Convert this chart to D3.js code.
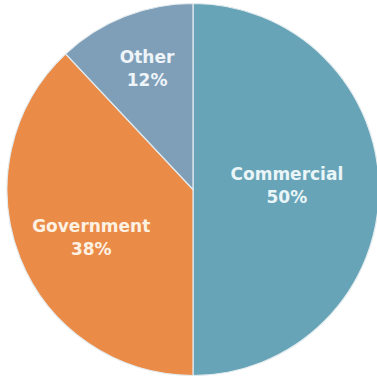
<!DOCTYPE html>
<html lang="en">
<head>
    <meta charset="UTF-8">
    <title>Pie</title>
    <style>
        body, html {
            margin: 0;
            padding: 0;
            background-color: #ffffff;
        }
        svg { display: block; }
    </style>
</head>
<body>
    <svg id="svg" width="377" height="378"></svg>
    <script src="https://d3js.org/d3.v7.min.js"></script>
    <script>
        const categories = ['Commercial', 'Government', 'Other']
        const shares = [50, 38, 12]
        const pctLabels = ['50%', '38%', '12%']

        const colors = ['#67a4b7', '#ea8b48', '#7f9fb9']
        const textColors = ['#eaf5f8', '#fdf1e2', '#eef4f8']

        const data = categories.map((c, i) => ({ name: c, value: shares[i], pct: pctLabels[i] }))

        const cx = 193, cy = 189.5, radius = 186

        const svg = d3.select('#svg')
        const g = svg.append('g').attr('transform', `translate(${cx}, ${cy})`)

        const pie = d3.pie().sort(null).value(d => d.value)
        const arc = d3.arc().innerRadius(0).outerRadius(radius)

        const color = d3.scaleOrdinal().domain(categories).range(colors)
        const textColor = d3.scaleOrdinal().domain(categories).range(textColors)

        const arcs = pie(data)

        g.selectAll('path')
            .data(arcs)
            .enter()
            .append('path')
            .attr('d', arc)
            .attr('fill', d => color(d.data.name))
            .attr('stroke', '#e4ecef')
            .attr('stroke-width', 1.2)

        // label placement: distance from centre (share of radius) plus a small nudge
        const labelR = { Commercial: 0.51, Government: 0.6, Other: 0.7 }
        const nudge = { Commercial: [-1, -6.5], Government: [2, 4.5], Other: [2, -2.5] }

        const labels = g.selectAll('text.lbl')
            .data(arcs)
            .enter()
            .append('text')
            .attr('class', 'lbl')
            .attr('transform', d => {
                const a = (d.startAngle + d.endAngle) / 2
                const r = radius * labelR[d.data.name]
                const [nx, ny] = nudge[d.data.name]
                return `translate(${Math.sin(a) * r + nx}, ${-Math.cos(a) * r + ny})`
            })
            .attr('text-anchor', 'middle')
            .attr('font-family', '"DejaVu Sans", sans-serif')
            .attr('font-weight', 'bold')
            .attr('font-size', '17px')
            .attr('fill', d => textColor(d.data.name))

        labels.append('tspan')
            .attr('x', 0)
            .attr('dy', '-0.2em')
            .text(d => d.data.name)
        labels.append('tspan')
            .attr('x', 0)
            .attr('dy', '1.4em')
            .text(d => d.data.pct)
    </script>
</body>
</html>
